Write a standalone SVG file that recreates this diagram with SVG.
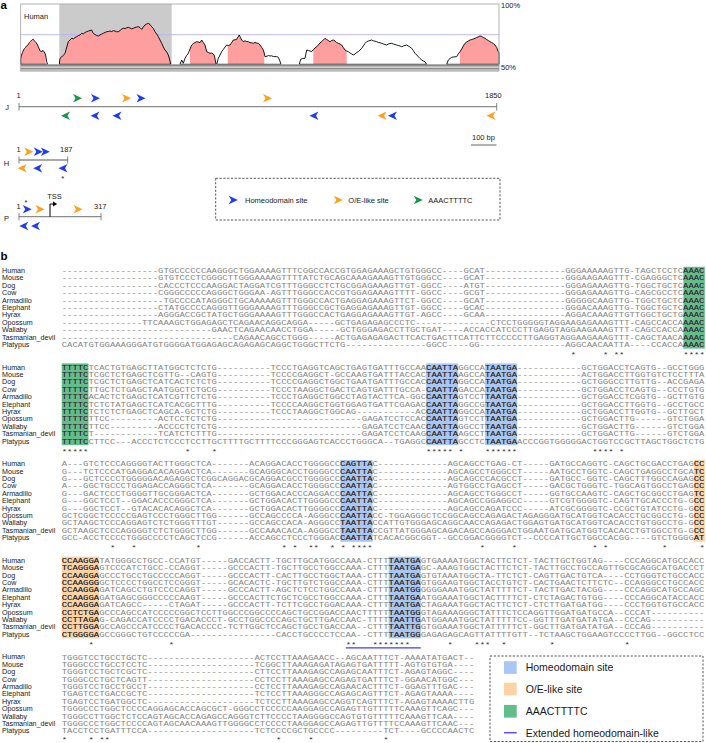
<svg xmlns="http://www.w3.org/2000/svg" width="706" height="743" viewBox="0 0 706 743">
<style>
.sans{font-family:"Liberation Sans",Arial,Helvetica,sans-serif;fill:#1a1a1a}
.pa{font-size:7.5px}
.nm{font-size:6.4px}
.lg{font-size:10.5px}
.ttl{font-family:"Liberation Sans",Arial,sans-serif;font-weight:bold;font-size:11.5px;fill:#000}
.trk{stroke:#8c8c8c;stroke-width:1.3;fill:none}
.tk{stroke:#666;stroke-width:0.8}
.st{font-family:"Liberation Mono","Courier New",monospace;font-size:7px;fill:#333}
.dash{fill:none;stroke:#444;stroke-width:0.9;stroke-dasharray:2.2 1.6}
.hb{fill:#aac6f2}.ho{fill:#fdd3a5}.hg{fill:#63bd8a}
.cb{fill:#1f3cf2}.co{fill:#ff9f1c}.cg{fill:#17954a}
</style>
<defs>
<path id="aR" d="M-4.5,-4.2L4.5,0L-4.5,4.2L-2,0Z"/>
<path id="aL" d="M4.5,-4.2L-4.5,0L4.5,4.2L2,0Z"/>
<path id="s1" d="M20.7,64.3L20.7,58.3 21.5,55 22.5,52.5 23.5,50 24.5,48.5 25.5,47.5 26.5,46 27.5,45.5 28.5,44 29.5,42.5 30.5,41.5 31.7,40.2 32.5,39.5 33.3,39.3 34.2,40.5 35,41.5 36,42.5 37,44 38.3,46.7 39.3,49 40.2,51 41.7,51.7 42.5,50.5 43.3,50.7 44.2,52 45,53.3 45.8,56 46.7,61.7 47.5,64.3Z"/>
<path id="s2" d="M59.3,64.3L60,58.3 61.7,56.7 63.3,55.5 65,53.3 66.5,48 68.3,41.7 70,40 71.7,38.3 73.5,38.8 75,37.5 76.7,36.7 78.5,35.5 80,35 81.7,33.3 83.5,33.8 85,32.5 86.7,31.7 88.5,31 90,30.5 91.7,30 92.5,32 93.3,33.3 95,34.5 96.7,35.5 98.3,36 100,35 101.7,34 103.3,33.3 105,32.5 106.7,31.7 108.5,31.5 110,31 111.7,31.5 113.3,30.7 115,31 116.7,31.8 118.3,31.7 120,30.5 121.7,29 123.3,28.3 125,28.5 126.7,27.8 128.3,27.3 130,28 131.7,28.8 133.3,28.3 135,27.5 136.7,27 138.3,26.7 140,27.5 141.7,29.3 143.3,27 145,25 146.7,24 148.3,23.3 150,24.5 151.7,26.7 153.3,28.5 155,31.7 156.7,34 158.3,36.7 160,40 161.7,43.3 163.3,47 165,50 166.7,52 168.3,55 169.5,59 170.7,64.3Z"/>
<path id="s3" d="M180,64.3L181.7,60 183.3,63.3 185,58.3 186.7,55.5 188.3,53.3 190,49 191.7,45 193.3,43.5 195,42.5 196.7,41.7 198.3,42 200,42.7 201.7,40 203.3,42.5 205,45 206.7,51.7 208.3,52.5 210,53.3 211.7,53 213.3,54 214.5,56 216,64.3Z"/>
<path id="s4" d="M216.7,64.3L218.3,58.3 220,55 221.7,51.7 223.3,49.5 225,47 226.7,45 228.3,45.5 230,45 231.7,42.5 233.3,40 235,39.8 236.7,39.3 238,37 239.3,35 240.5,37.5 241.7,40 243.3,41.7 245,40.8 246.7,41.5 248.3,41.7 250,42.5 251.7,42.8 253.3,43.3 255,42.5 256.7,43 258.3,43.3 260,45 261.7,47.5 263.3,50 264.2,53 265,56.7 267,56.2 268.5,55.5 270,56 271.7,55.8 273.3,56.5 275,56.7 276.7,56.5 278.3,57.3 279.5,60 281,64.3Z"/>
<path id="s5" d="M299.3,64.3L300.7,59.3 302.5,58.5 305,58.3 306.7,50 308.3,50.5 310,51 311.7,51.7 313.3,49.5 315,48 316.7,46.7 318.3,45 320,43 321.7,41.7 323.3,40 325,38.3 326.7,39.5 328.3,40.5 330,41.7 331.7,40.5 333.3,40 335,41 336.7,42.5 338.3,43.3 340,44 341.7,45 343.3,47.5 345,50 346.7,51 348.3,51.7 350,53 351.7,54 353.3,55 355,54 356.7,52.5 358.3,51.7 360,50 361.7,48.3 363.3,46 365,43.5 366.7,41.7 368.3,41 370,40.5 371.7,40 373.3,40.8 375,41.2 376.7,41.7 378.3,42.5 380,42.8 381.7,43.3 383.3,44 385,44.5 386.7,45 388.3,44 390,43.5 391.7,43.3 393.3,44 395,44.5 396.7,45 398.3,45.5 400,46 401.7,46.7 403.3,46 405,45.5 406.7,45 408.3,46 410,47 411.7,48.3 413.3,50.5 415,53.3 416.7,55 418.3,56.7 420,58.5 421.7,60 423.3,61 425,61.7 426.7,64.3Z"/>
<path id="s6" d="M446.7,64.3L448.3,60 450,58.5 451.7,57.3 453.3,57 455,56.8 456.7,56.7 458.3,54 460,51.7 461.7,49 463.3,46 465,43.3 466.7,42 468.3,41 470,40 471.7,39.5 473.3,39 475,38.3 476.7,37.5 478.3,36.8 480,36 481.7,36.5 483.3,37.5 485,38.3 486.7,39.5 488.3,40.5 490,41.7 491.7,42.5 493.3,43.5 495,45 496.7,47.5 498.3,51.7 499,53 499,64.3Z"/>
<clipPath id="pk">
<rect x="20.7" y="0" width="25" height="64.3"/><rect x="59.3" y="0" width="111.4" height="64.3"/><rect x="190" y="0" width="25" height="64.3"/><rect x="227.7" y="0" width="36.6" height="64.3"/><rect x="313.3" y="0" width="33.4" height="64.3"/><rect x="460" y="0" width="38.3" height="64.3"/>
</clipPath>
<clipPath id="hlclip">
<rect x="487.2" y="266.8" width="16.8" height="81.8"/>
<rect x="0" y="363.4" width="21" height="81.8"/><rect x="285.6" y="363.4" width="25.2" height="81.8"/><rect x="331.8" y="363.4" width="25.2" height="81.8"/>
<rect x="218.4" y="460" width="25.2" height="81.8"/><rect x="495.6" y="460" width="8.4" height="81.8"/>
<rect x="0" y="556.6" width="29.4" height="81.8"/><rect x="256.2" y="556.6" width="25.2" height="81.8"/>
</clipPath>
</defs>

<text class="ttl" x="0.5" y="9">a</text>
<text class="ttl" x="0.5" y="259.5">b</text>

<g id="conservation-plot">
<rect x="59.3" y="4" width="112.4" height="60.3" fill="#cbcbcb"/>
<line x1="20.7" y1="34.7" x2="499" y2="34.7" stroke="#b6b6f2" stroke-width="0.9"/>
<g clip-path="url(#pk)" fill="#ff9e9e"><use href="#s1"/><use href="#s2"/><use href="#s3"/><use href="#s4"/><use href="#s5"/><use href="#s6"/></g>
<g fill="none" stroke="#000" stroke-width="0.9" stroke-linejoin="round"><use href="#s1"/><use href="#s2"/><use href="#s3"/><use href="#s4"/><use href="#s5"/><use href="#s6"/></g>
<rect x="20.7" y="64.3" width="478.3" height="2.3" fill="#8c8c8c"/>
<rect x="20.7" y="67.6" width="478.3" height="2" fill="#8c8c8c"/>
<line x1="20.7" y1="70.8" x2="499" y2="70.8" stroke="#aaa" stroke-width="0.8"/>
<rect x="20.7" y="4" width="478.3" height="67" fill="none" stroke="#a0a0a0" stroke-width="0.8"/>
<text class="sans pa" x="24" y="19.3">Human</text>
<text class="sans pa" x="501" y="7.5">100%</text>
<text class="sans pa" x="501" y="69.5">50%</text>
</g>

<g id="track-J">
<line class="trk" x1="19" y1="106.7" x2="496.7" y2="106.7"/>
<line class="tk" x1="19" y1="103" x2="19" y2="110.5"/><line class="tk" x1="496.7" y1="103" x2="496.7" y2="110.5"/>
<text class="sans pa" x="7" y="109.5" text-anchor="middle">J</text>
<text class="sans pa" x="18.5" y="97.7" text-anchor="middle">1</text>
<text class="sans pa" x="485" y="97.7">1850</text>
<use href="#aR" x="77.5" y="98.3" class="cg"/><use href="#aR" x="95.5" y="98.3" class="cb"/><use href="#aR" x="126.5" y="98.3" class="co"/><use href="#aR" x="141" y="98.3" class="cb"/><use href="#aR" x="267.5" y="98.3" class="co"/>
<use href="#aL" x="65.5" y="115.7" class="cg"/><use href="#aL" x="95" y="115.7" class="cb"/><use href="#aL" x="117" y="115.7" class="cb"/><use href="#aL" x="314" y="115.7" class="cb"/><use href="#aL" x="382" y="115.7" class="co"/><use href="#aL" x="392.5" y="115.7" class="cb"/><use href="#aL" x="491" y="115.7" class="co"/>
</g>

<g id="scale-bar">
<text class="sans pa" x="483.5" y="139.5" text-anchor="middle">100 bp</text>
<line x1="471" y1="145" x2="496.5" y2="145" stroke="#555" stroke-width="0.9"/>
</g>

<g id="track-H">
<line class="trk" x1="19" y1="160" x2="67.7" y2="160"/>
<line class="tk" x1="19" y1="156.5" x2="19" y2="163.5"/><line class="tk" x1="67.7" y1="156.5" x2="67.7" y2="163.5"/>
<text class="sans pa" x="6.5" y="165.5" text-anchor="middle">H</text>
<text class="sans pa" x="18.5" y="152.3" text-anchor="middle">1</text>
<text class="sans pa" x="60" y="152.3">187</text>
<use href="#aR" x="28.8" y="151.7" class="co"/><use href="#aR" x="38.3" y="151.7" class="cb"/><use href="#aR" x="45.3" y="151.7" class="cb"/>
<use href="#aL" x="22.2" y="168.3" class="co"/><use href="#aL" x="37.7" y="168.3" class="cb"/><use href="#aL" x="63" y="168.3" class="cb"/>
<text class="sans pa" x="62.7" y="180.5" text-anchor="middle">*</text>
</g>

<g id="track-P">
<line class="trk" x1="19" y1="216.7" x2="101" y2="216.7"/>
<line class="tk" x1="19" y1="213" x2="19" y2="220.3"/><line class="tk" x1="101" y1="213" x2="101" y2="220.3"/>
<text class="sans pa" x="6.5" y="221" text-anchor="middle">P</text>
<text class="sans pa" x="18.5" y="208.7" text-anchor="middle">1</text>
<text class="sans pa" x="94" y="208.7">317</text>
<text class="sans pa" x="26" y="204.5" text-anchor="middle">*</text>
<path d="M50,216.7V204H54" fill="none" stroke="#000" stroke-width="1"/>
<polygon points="53,201.6 57.2,204 53,206.4" fill="#000"/>
<text class="sans pa" x="54.5" y="198.5" text-anchor="middle">TSS</text>
<use href="#aR" x="27.2" y="209.3" class="cb"/><use href="#aR" x="40" y="209.3" class="co"/><use href="#aR" x="78" y="209.3" class="co"/>
<use href="#aL" x="23.8" y="226" class="cb"/><use href="#aL" x="35.5" y="226" class="cb"/>
</g>

<g id="legend-a">
<rect class="dash" x="215.7" y="178.3" width="284.3" height="41.7"/>
<use href="#aR" x="233.3" y="200" class="cb"/><text class="sans pa" x="245" y="202.7">Homeodomain site</text>
<use href="#aR" x="338.3" y="200" class="co"/><text class="sans pa" x="348.3" y="202.7">O/E-like site</text>
<use href="#aR" x="418.3" y="200" class="cg"/><text class="sans pa" x="428.3" y="202.7">AAACTTTTC</text>
</g>

<g id="species-names" class="sans nm">
<g transform="translate(2 270.7) scale(1.12 1)"><text y="2.3">Human</text><text y="9.7">Mouse</text><text y="17.1">Dog</text><text y="24.5">Cow</text><text y="31.9">Armadillo</text><text y="39.3">Elephant</text><text y="46.7">Hyrax</text><text y="54.1">Opossum</text><text y="61.5">Wallaby</text><text y="68.9">Tasmanian_devil</text><text y="76.3">Platypus</text></g>
<g transform="translate(2 367.3) scale(1.12 1)"><text y="2.3">Human</text><text y="9.7">Mouse</text><text y="17.1">Dog</text><text y="24.5">Cow</text><text y="31.9">Armadillo</text><text y="39.3">Elephant</text><text y="46.7">Hyrax</text><text y="54.1">Opossum</text><text y="61.5">Wallaby</text><text y="68.9">Tasmanian_devil</text><text y="76.3">Platypus</text></g>
<g transform="translate(2 463.9) scale(1.12 1)"><text y="2.3">Human</text><text y="9.7">Mouse</text><text y="17.1">Dog</text><text y="24.5">Cow</text><text y="31.9">Armadillo</text><text y="39.3">Elephant</text><text y="46.7">Hyrax</text><text y="54.1">Opossum</text><text y="61.5">Wallaby</text><text y="68.9">Tasmanian_devil</text><text y="76.3">Platypus</text></g>
<g transform="translate(2 560.5) scale(1.12 1)"><text y="2.3">Human</text><text y="9.7">Mouse</text><text y="17.1">Dog</text><text y="24.5">Cow</text><text y="31.9">Armadillo</text><text y="39.3">Elephant</text><text y="46.7">Hyrax</text><text y="54.1">Opossum</text><text y="61.5">Wallaby</text><text y="68.9">Tasmanian_devil</text><text y="76.3">Platypus</text></g>
<g transform="translate(2 657.1) scale(1.12 1)"><text y="2.3">Human</text><text y="9.7">Mouse</text><text y="17.1">Dog</text><text y="24.5">Cow</text><text y="31.9">Armadillo</text><text y="39.3">Elephant</text><text y="46.7">Hyrax</text><text y="54.1">Opossum</text><text y="61.5">Wallaby</text><text y="68.9">Tasmanian_devil</text><text y="76.3">Platypus</text></g>
</g>

<g id="alignment" transform="translate(61.7 0) scale(1.276 1)">
<g id="site-boxes">
<rect class="hg" x="487.2" y="266.8" width="16.8" height="81.8"/>
<rect class="hg" x="0" y="363.4" width="21" height="81.8"/><rect class="hb" x="285.6" y="363.4" width="25.2" height="81.8"/><rect class="hb" x="331.8" y="363.4" width="25.2" height="81.8"/>
<rect class="hb" x="218.4" y="460" width="25.2" height="81.8"/><rect class="ho" x="495.6" y="460" width="8.4" height="81.8"/>
<rect class="ho" x="0" y="556.6" width="29.4" height="81.8"/><rect class="hb" x="256.2" y="556.6" width="25.2" height="81.8"/>
</g>
<g fill="#858585">
<g id="seqtext" font-family="'Liberation Mono','Courier New',monospace" font-size="7">
<g transform="translate(0 270.7)">
<text y="2.4"><tspan x="0">------------------GTGCCCCCCAAGGGCTGGAAAAGTTTCGGCCACCGTGG</tspan><tspan x="235.2">AGAAAGCTGTGGGCC----GCAT---------------GGGAAAAAGTTG-TAGCTCCTCAAAC</tspan></text>
<text y="9.8"><tspan x="0">------------------GTGTCCCTCGGGCTTGGGAAAAGTTTTATCTGCAGCAA</tspan><tspan x="235.2">AGAAAGTTGTGGGCC----GCAT---------------GGGAAGAAGTTT-CGAGGGCTCAAAC</tspan></text>
<text y="17.2"><tspan x="0">------------------CACCCTCCCAAGGACTAGGATCGTTTGGGCCTCTGCGG</tspan><tspan x="235.2">AGAAAGTTGT-GGCC----ATGT---------------GGGAGAAAGTTG-TGGCTGCTCAAAC</tspan></text>
<text y="24.6"><tspan x="0">------------------CGGGCCCCCAGGGCTGGGAA-AGTTTGGGCCACCGTGG</tspan><tspan x="235.2">AGAAAGTTTT-GGCC----GCGT---------------GGGAGAAAGTTG-CAGCGCCTCAAAC</tspan></text>
<text y="32"><tspan x="0">-------------------TGCCCCATAGGGCTGCAAAAAGTTTGGGCCACTGAGG</tspan><tspan x="235.2">AGAAAGTTCT-GGCC----GCAT---------------GGGGGCAAGTTG-TGGCTGCTCAAAC</tspan></text>
<text y="39.4"><tspan x="0">------------------CTATGCCCCAGGGTTGGGAAAAGTTTGGGCCGCTGAGG</tspan><tspan x="235.2">AGAAAGTTGT-GGCC----GCAC---------------GGGACAAAGTTG-TGGCTGCTCAAAC</tspan></text>
<text y="46.8"><tspan x="0">------------------AGGGACCGCTATGCTGGGAAAAGTTTGGGCCACTGAGG</tspan><tspan x="235.2">AGAAAGTTGT-AGCC----GCAA---------------AGGACAAAGTTGTTGGCTGCTGAAAC</tspan></text>
<text y="54.2"><tspan x="0">---------------TTCAAAGCTGGAGAGCTCAGAACAGGCAGGA-----GCTGA</tspan><tspan x="235.2">GAGAGCCCTC--------------CTCCTGGGGGTAGGAAGAGAAAGTTT-CAGCCACCAAAAC</tspan></text>
<text y="61.6"><tspan x="0">----------------------------GAACTCAGAACAACCTGGA-----GCTG</tspan><tspan x="235.2">GGAGACCTTGCTGAT----ACCACCATCCCTTGAGGTAGGAAGAAAGTTT-CAGCCACCAAAAC</tspan></text>
<text y="69"><tspan x="0">--------------------------------CAGAACAGCCTGGG-----ACTGA</tspan><tspan x="235.2">GAGAGACTTCACTGACTTCATTCTTCCCCCTTGAGGTAGGAAGAAAGTTT-CAGCTAACAAAAC</tspan></text>
<text y="76.4"><tspan x="0">CACATGTGGAAAGGGATGTGGGGATGGAGAGCAGAGAGCAGGCTGGGCTTCTG---</tspan><tspan x="235.2">------------GGCC----GG----------------AGGCAACAATTA----CCACCAAAAC</tspan></text>
</g>
<g transform="translate(0 367.3)">
<text y="2.4"><tspan x="0">TTTTCTCACTGTGAGCTTATGGCTCTCTG----------TCCCTGAGGTCAGCTGA</tspan><tspan x="235.2">GTGATTTGCCAACAATTAGGCCATAATGA------------GCTGGACCTCAGTG--GCCTGGG</tspan></text>
<text y="9.8"><tspan x="0">TTTTCTCGCTCTGAGCTCGTTG--CAGTG----------TCCCCGAGGCT-GCCAA</tspan><tspan x="235.2">GTGATTTACCACTAATTAAGCCATAATGA------------ACTGGACCTTGGTGTCTCCTTTA</tspan></text>
<text y="17.2"><tspan x="0">TTTTCTCGCTCTGAGCTCATCACTCTCTG----------TCCCCGAGGCTGGCTGA</tspan><tspan x="235.2">ATGATTTGCCACCAATTAGGCCATAATGA------------GCTGGGCCTTGTTG--ACCGAGA</tspan></text>
<text y="24.6"><tspan x="0">TTTTCTTGCTCTGAGCTAATGGCTCTGCG----------TCCCTAAGGCTGACTCA</tspan><tspan x="235.2">GTGATTTGCCA-CAATTAGACCATAATGA------------GCTGGACCTCAGTG--CCCTGTG</tspan></text>
<text y="32"><tspan x="0">TTTTCACACTCTGAGCTCATCGTTCTCTG----------TCCCTGAGGCTGGCCTA</tspan><tspan x="235.2">GTACTTCA-GGCCAATTAGTCCTTAATGA------------GCTGGACCTCGGTG--GCTTGTG</tspan></text>
<text y="39.4"><tspan x="0">TTTTCTCTCTATGAGCTCATCACGCTTTG----------TCCCCAAGGCTGGTGGA</tspan><tspan x="235.2">GTGATTCGAGACCAATTAGGCCGTAATGA------------GCTGGACCTTGGTG--GCCTGCC</tspan></text>
<text y="46.8"><tspan x="0">TTTTCTCTCTCTGAGCTCAGCA-GCTCTG----------TCCCTAAGGCTGGCAG-</tspan><tspan x="235.2">----------ACCAATTAGGCCATAATGA------------GCTGGACCTTGGTG--GCTTGCT</tspan></text>
<text y="54.2"><tspan x="0">TTTTCTTCC---------ACTCCTCTCTG---------------------------</tspan><tspan x="235.2">GAGATCCTCCACCAATTAGTCCTTAATGA------------GCTGGACTTG------GTCTGGA</tspan></text>
<text y="61.6"><tspan x="0">TTTTCTTCC---------ACCCCTCTCTG---------------------------</tspan><tspan x="235.2">GAGATCCTCAACCAATTAGGCCTTAATGA------------GCTGGACTTG------GTCTGGA</tspan></text>
<text y="69"><tspan x="0">TTTTCT------------TCATCTCTTTG---------------------------</tspan><tspan x="235.2">GAGATCCTCAAGCAATTAAGCCTTAATGA------------GCTGGACTTG------GTCTGGA</tspan></text>
<text y="76.4"><tspan x="0">TTTTCCTTCC---ACCCTCTCCCTCCTTGCTTTTGCTTTTCCCGGGAGTCACCCTG</tspan><tspan x="235.2">GGCA--TGAGGCCAATTAGCCTCTAATGAACCCGGTGGGGGACTGGTCCGCTTAGCTGGCTCTG</tspan></text>
</g>
<g transform="translate(0 463.9)">
<text y="2.4"><tspan x="0">A---GTCTCCCAGGGGTACTTGGGCTCA-------ACAGGACACCTGGGGCCCAGT</tspan><tspan x="235.2">TAC-------------AGCAGCCTGAG-CT-----GATGCCAGGTC-CAGCTGCGACCTGAGCC</tspan></text>
<text y="9.8"><tspan x="0">G---TCTCCCATGAGGACACAGGACTCA-------GCAGGGCACCTGGGGCCCAAT</tspan><tspan x="235.2">TAC-------------AGCAGCCTGGGCCT-----AATGCCTGGTC-CAGCTGAGGCCTGCATC</tspan></text>
<text y="17.2"><tspan x="0">G---GCTCCCCTGGGGGACAGAGGCTCGGCAGGACGCAGGACGCCTGGGGCCCAAT</tspan><tspan x="235.2">TAC-------------AGCAGCCCACGCCT-----GATGCC-GGTC-CAGCTTTGGCCAGAGCC</tspan></text>
<text y="24.6"><tspan x="0">A---GGCTGCCCTGGAGACCAGGGCTCA-------GCAGGACACCTGGGGCCCAAT</tspan><tspan x="235.2">TAC-------------AGTGGCCTGAGCCT-----GACGCTGGGTC-TGGCAGTGGCCTGAGCC</tspan></text>
<text y="32"><tspan x="0">G---GACTCCCTGGGGTTGCGGGACTCA-------GCTGGACACCCAGGACCCAAT</tspan><tspan x="235.2">TAC-------------AGCAGCCTGGGCCT-----GGTGCCAAGTC-CAGCTGCGGCCTGAGTC</tspan></text>
<text y="39.4"><tspan x="0">G---GGCTCCT--GGACACCCGGGCTCA-------GCTGGACACTTGGGGCCCAAT</tspan><tspan x="235.2">TAC-------------AGCAGCCGGAGGCC-----GTCGTGGGGTC-CAGTTGCACCCTG-GCC</tspan></text>
<text y="46.8"><tspan x="0">G---GGCTCCT--GTACACACAGGCTCA-------GCTGGACACTTGGGGCCCAAT</tspan><tspan x="235.2">TAC-------------AGCAGCCAGATCCC-----ATCGCGGGGTC-CCGCTGTATCCTG-GCC</tspan></text>
<text y="54.2"><tspan x="0">GCTCGGCTCCCCCGAGTCCCTGGGCTTGG------GCCAGCCCCA-AGGGCCCAAT</tspan><tspan x="235.2">TACC-TGGAGGGCTCCGGCAGCCAGAGACTAGAGGGATGCATGGTCACACCTGCGGCCTG-GCC</tspan></text>
<text y="61.6"><tspan x="0">GCTAAGCTCCCAGGAGTCTCTGGGTTTGT------GCCAGCCACA-AGGGCCTAAT</tspan><tspan x="235.2">TACCATTGTGGGAGCAGGCAACCAGAGACTGGAGTGATGCATGGTCACACCTGTGGCCTG-GCC</tspan></text>
<text y="69"><tspan x="0">GCTAAGCTCCCAGGGGTCTCTGGGCTTGG------GCCAAACACA-AGGGCCTAAT</tspan><tspan x="235.2">TACCGTTATGGGAGCAGACAGCCAGGGACTGGAATGATGCATGGTCACACCTGTGGCCTG-GCC</tspan></text>
<text y="76.4"><tspan x="0">GCC-ACCTCCCCTGGGCCCCTCAGCTCCG------ACCAGCCTCCCTGGGACCAAT</tspan><tspan x="235.2">TATCACACGGCGGT--GCCGGACGGGGTCT--CCCCATTGCTGGCCACGG----GTCTGGGGAT</tspan></text>
</g>
<g transform="translate(0 560.5)">
<text y="2.4"><tspan x="0">CCAAGGATATGGGCCTGCC-CCATGT-----GACCACTT-TGCTTGCATGGCCAAA</tspan><tspan x="235.2">-CTTTTAATGAGTGAAAATGGCTACTTCTCT-TACTTGCTGGTAG----CCCAGGCATGCCACC</tspan></text>
<text y="9.8"><tspan x="0">TCAGGGAGTCCCATCTGCC-CCAGGT-----GCCCACTT-TGCTTGCCTGGCCAAA</tspan><tspan x="235.2">-CTTTTAATGAGC-AAAGTGGCTACTTCTCT-TACTTGCCTGCCAGTTGCGCAGGCATGACCCT</tspan></text>
<text y="17.2"><tspan x="0">CCAAGGAGCCCTGCCTGCCCCCAGGT-----GCCCACTT-CACTTGCCTGGCTAAA</tspan><tspan x="235.2">-CTTTTAATGAGTGTAAATGGCTA-TTCTCT-CAGTTGACTGTCA----CCTGGGTCTGCCACC</tspan></text>
<text y="24.6"><tspan x="0">CCAAGGGGCTCCCCTGGCCTCCGGGT-----GCACACTC-TGCTTGTCTGGCCAAA</tspan><tspan x="235.2">-CTTTTAATGAGTGGAAGTGGCTACCTGTCT-CACTGAACTCTTCTC--CCAGGGCCTGCCACC</tspan></text>
<text y="32"><tspan x="0">CCAAGGAGATCAGCCTGTCCCCAGGT-----GCCCACTT-AGCTCTCCTGGCCAAA</tspan><tspan x="235.2">-CTTTTAATGGGGGGAAATGGCTATTTTTCT-TACTTGACTACGG----CCCAGGCATGCCAGC</tspan></text>
<text y="39.4"><tspan x="0">CCAAGGAGATGAGCGGGCCCCCAAGT-----GCCCACTTCTGCTCGCCTGGCCAAA</tspan><tspan x="235.2">-CTTTTAATGAATGGAAATGGCTACTTTTCT-CTCTAGACTGTGG----CCCAGGCATACCACC</tspan></text>
<text y="46.8"><tspan x="0">CCAAGGAGATCAGCC-----CTAGAT-----GCCCACTT-TCTTCGCCTGGACAAA</tspan><tspan x="235.2">-CTTTTAATGACTAGAAATGGCTACTTCTCT-CTCTTGATGATGG----CCCTGGTGTGCCACC</tspan></text>
<text y="54.2"><tspan x="0">CCTCTGAGCCCAGCCATCCCCCGGCTCCTTGGCCCGGCCCCAGCTGCCGGACCAAC</tspan><tspan x="235.2">TTTTTTAATGGGTAGAAAGGGCTATTTCTCCAGGTTGGATGATGCCA--CCCAT----------</tspan></text>
<text y="61.6"><tspan x="0">CCTTAGAG-CAGACCATCCCCTGACACCCT-GCCTGGCCCCAGCTGCTTGACCAAC</tspan><tspan x="235.2">-TTTTTAATTGATGGAAATGGCTATTTTTCC-GGTTTGATGATATGA--CCCAG----------</tspan></text>
<text y="69"><tspan x="0">CCTTGGAGCCAGCCCATCCCCTGACACCCC-TCTTGGCTCCAGCTGCCTGACCAA-</tspan><tspan x="235.2">-CTTTTAATTGGTGGAAATGGCTATTTTTCT-GGCTTGATGATATGA--CCCAG----------</tspan></text>
<text y="76.4"><tspan x="0">CTGGGGAGCCGGGCTGTCCCCCGA----------------CACCTGCCCCTCCAA-</tspan><tspan x="235.2">-CTTTTAATGGGAGAGAGCAGTTATTTTGTT--TCTAAGCTGGAAGTCCCCTTGG--GGCCTCC</tspan></text>
</g>
<g transform="translate(0 657.1)">
<text y="2.4"><tspan x="0">TGGGTCCTGCCTGCTC--------------------ACTCCTTAAAGAACC--AGC</tspan><tspan x="235.2">AATTTCT-AAAATATGACT--</tspan></text>
<text y="9.8"><tspan x="0">TGGGCCCTGCCTCCTC--------------------TCGGCTTAAAGAGATAGAGT</tspan><tspan x="235.2">GATTTTT-AGTGTGTGA----</tspan></text>
<text y="17.2"><tspan x="0">TGGGTCCTGCTCGCTC--------------------CTTCCTTAAAGAGCCAGAGC</tspan><tspan x="235.2">AATTTCT-AGAGTAGGC----</tspan></text>
<text y="24.6"><tspan x="0">TGGGCCCTGCTCAGTT--------------------CCTCCTTAAAGAGCCAGAGT</tspan><tspan x="235.2">GATTTCT-GGAACATGGC---</tspan></text>
<text y="32"><tspan x="0">TGGGTCCTGCCTGCCT--------------------CCTCCTTAAAGAGCCAGAAC</tspan><tspan x="235.2">ACTTTCT-GGAGTTTGAC---</tspan></text>
<text y="39.4"><tspan x="0">TGAGTCCTGACCGCTC--------------------TCTCCTTAAAGGGCCAGAGC</tspan><tspan x="235.2">AGTTTCT-AGAGTAAAA----</tspan></text>
<text y="46.8"><tspan x="0">TGAGTCCTGATGGCTC--------------------TCTCCTTAAAGAGCCAGGTC</tspan><tspan x="235.2">AGTTTCT-AGAGTAAAACTTG</tspan></text>
<text y="54.2"><tspan x="0">TGGGCCCTGGCTCCCCAGGAGCACCAGCGCT-GGGCCTCCCCCAAGGAGCCAGAGT</tspan><tspan x="235.2">TGTTTTTCAAAGTTCAGC---</tspan></text>
<text y="61.6"><tspan x="0">TGGGCCTTGGCTCTCCAGTAGCACCAGAGCCAGGGTCTTCCCCTAAGGGGCCAGTG</tspan><tspan x="235.2">TGTTTTTCAAAGTTCAA----</tspan></text>
<text y="69"><tspan x="0">TGGGCCCTGGCTCCCCAGTAGCAACAAAGTTGGGGCCTCCCCTAAGGAGCCAGAGT</tspan><tspan x="235.2">TGTTTTCCAAAGTTCAAC---</tspan></text>
<text y="76.4"><tspan x="0">TACCTCCTGATTTCCA--------------------TCTCCCCGCTGCCCC-----</tspan><tspan x="235.2">----TCT----GCCCCAACTC</tspan></text>
</g>
</g>
</g>
<use href="#seqtext" fill="#262626" clip-path="url(#hlclip)"/>
<g id="consensus" class="st">
<text y="357.2"><tspan x="399">*</tspan><tspan x="424.2">*</tspan><tspan x="432.6">**</tspan><tspan x="487.2">****</tspan></text>
<text y="453.8"><tspan x="0">*****</tspan><tspan x="96.6">*</tspan><tspan x="117.6">*</tspan><tspan x="285.6">*****</tspan><tspan x="310.8">*</tspan><tspan x="331.8">******</tspan><tspan x="415.8">****</tspan><tspan x="436.8">*</tspan></text>
<text y="550.4"><tspan x="37.8">*</tspan><tspan x="54.6">*</tspan><tspan x="105">*</tspan><tspan x="172.2">*</tspan><tspan x="180.6">*</tspan><tspan x="193.2">**</tspan><tspan x="210">*</tspan><tspan x="218.4">*</tspan><tspan x="226.8">****</tspan><tspan x="327.6">*</tspan><tspan x="352.8">*</tspan><tspan x="415.8">*</tspan><tspan x="424.2">*</tspan><tspan x="470.4">*</tspan><tspan x="499.8">*</tspan></text>
<text y="647"><tspan x="21">*</tspan><tspan x="84">*</tspan><tspan x="222.6">**</tspan><tspan x="243.6">*******</tspan><tspan x="302.4">*</tspan><tspan x="323.4">***</tspan><tspan x="344.4">*</tspan><tspan x="382.2">*</tspan><tspan x="441">*</tspan></text>
<text y="742.5"><tspan x="0">*</tspan><tspan x="21">*</tspan><tspan x="29.4">**</tspan><tspan x="168">*</tspan><tspan x="193.2">*</tspan><tspan x="252">*</tspan></text>
</g>
<line id="extended-hd-underline" x1="222.6" y1="647.8" x2="281.4" y2="647.8" stroke="#3b3bff" stroke-width="1.3"/>
</g>

<g id="legend-b">
<rect class="dash" x="490" y="656" width="213" height="85.5"/>
<rect class="hb" x="504" y="661.2" width="12.7" height="12.7"/><text class="sans lg" x="525.7" y="671.3">Homeodomain site</text>
<rect class="ho" x="504" y="682.7" width="12.7" height="12.7"/><text class="sans lg" x="525.7" y="692.8">O/E-like site</text>
<rect class="hg" x="504" y="704.9" width="12.7" height="12.7"/><text class="sans lg" x="525.7" y="715">AAACTTTTC</text>
<line x1="504" y1="732.7" x2="516.7" y2="732.7" stroke="#5050ff" stroke-width="1.5"/><text class="sans lg" x="525.7" y="736.5">Extended homeodomain-like</text>
</g>
</svg>
